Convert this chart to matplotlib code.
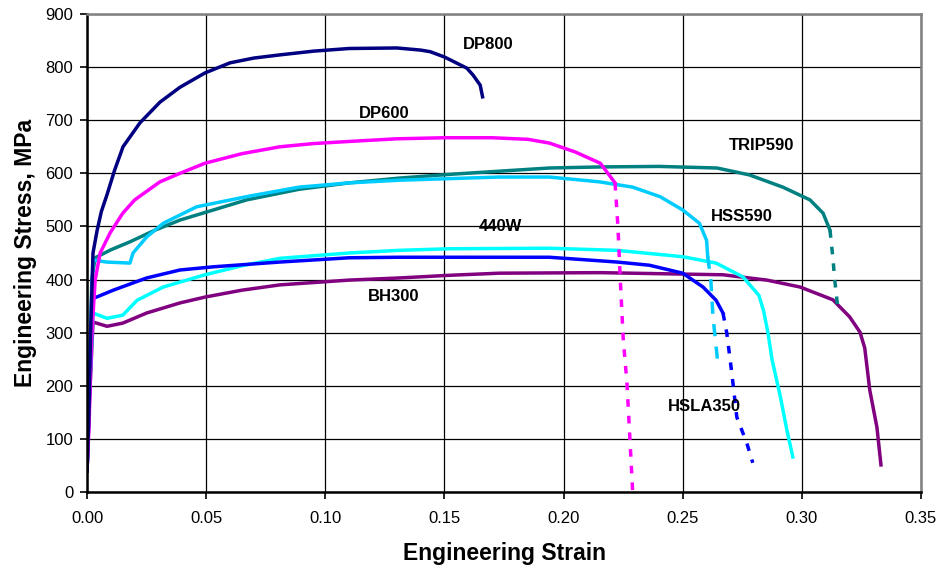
import matplotlib
matplotlib.use("Agg")
import matplotlib.pyplot as plt

plt.rcParams['font.family'] = ['Liberation Sans', 'DejaVu Sans']

# ---- data (engineering strain, engineering stress MPa) ----
dp800_strain = [0.0, 0.0008, 0.0015, 0.0025, 0.0042, 0.0060, 0.0084, 0.0115, 0.0151, 0.0222, 0.0306,
                0.039, 0.0495, 0.060, 0.070, 0.081, 0.095, 0.110, 0.130, 0.140, 0.144, 0.150, 0.1594,
                0.162, 0.165, 0.166]
dp800_stress = [40, 150, 300, 450, 492, 528, 560, 605, 650, 695, 734, 762, 789, 808, 817, 823, 830,
                835, 836, 832, 829, 819, 798, 785, 766, 744]

dp600_strain = [0.0, 0.0008, 0.0018, 0.0034, 0.0055, 0.0097, 0.015, 0.020, 0.0306, 0.039, 0.0495,
                0.065, 0.081, 0.095, 0.110, 0.130, 0.150, 0.170, 0.185, 0.194, 0.205, 0.2154, 0.2216]
dp600_stress = [40, 120, 280, 399, 450, 488, 525, 550, 584, 600, 619, 637, 650, 656, 660, 665, 667,
                667, 664, 657, 640, 619, 582]
dp600_frac_strain = [0.2216, 0.2228, 0.2238, 0.2250, 0.2266, 0.2290]
dp600_frac_stress = [582, 500, 400, 290, 205, 0]

trip590_strain = [0.0, 0.001, 0.002, 0.0034, 0.010, 0.018, 0.028, 0.039, 0.053, 0.067, 0.089, 0.110,
                  0.131, 0.152, 0.173, 0.194, 0.215, 0.240, 0.2644, 0.278, 0.292, 0.3034, 0.3089, 0.3118]
trip590_stress = [40, 200, 400, 441, 456, 471, 492, 512, 531, 550, 570, 582, 591, 598, 604, 610, 612,
                  613, 610, 597, 574, 550, 525, 493]
trip590_frac_strain = [0.3118, 0.3130, 0.3138, 0.3147, 0.3150]
trip590_frac_stress = [493, 442, 399, 362, 350]

hss590_strain = [0.0, 0.001, 0.0025, 0.008, 0.018, 0.0193, 0.025, 0.032, 0.046, 0.068, 0.089, 0.110,
                 0.131, 0.173, 0.194, 0.215, 0.229, 0.2405, 0.250, 0.257, 0.260, 0.2605]
hss590_stress = [40, 220, 437, 433, 431, 450, 480, 506, 537, 557, 574, 582, 587, 593, 593, 584, 574,
                 556, 531, 506, 474, 443]
hss590_frac_strain = [0.2605, 0.2618, 0.2627, 0.2648]
hss590_frac_stress = [443, 399, 330, 240]

w440_strain = [0.0, 0.001, 0.0025, 0.0084, 0.015, 0.021, 0.032, 0.0495, 0.065, 0.081, 0.110, 0.131,
               0.152, 0.194, 0.2224, 0.250, 0.264, 0.2753, 0.2820, 0.2840, 0.2858, 0.2875, 0.291,
               0.2937, 0.2962]
w440_stress = [40, 180, 337, 327, 333, 361, 386, 409, 426, 440, 450, 455, 458, 459, 455, 443, 431, 405,
               370, 340, 299, 249, 179, 117, 66]

hsla350_strain = [0.0, 0.001, 0.0025, 0.004, 0.011, 0.025, 0.039, 0.053, 0.081, 0.110, 0.131, 0.194,
                  0.2224, 0.236, 0.250, 0.2585, 0.264, 0.2669]
hsla350_stress = [40, 180, 365, 367, 380, 403, 418, 424, 433, 441, 442, 442, 433, 427, 412, 386, 361, 337]
hsla350_frac_strain = [0.2669, 0.2685, 0.2706, 0.2727, 0.2769, 0.2794]
hsla350_frac_stress = [337, 299, 224, 141, 92, 55]

bh300_strain = [0.0, 0.001, 0.0025, 0.0084, 0.015, 0.025, 0.039, 0.0495, 0.065, 0.081, 0.110, 0.131,
                0.152, 0.173, 0.2154, 0.2669, 0.2853, 0.2992, 0.313, 0.320, 0.3244, 0.3264, 0.3285,
                0.3315, 0.3332]
bh300_stress = [40, 170, 320, 312, 318, 337, 356, 367, 380, 390, 399, 403, 408, 412, 413, 409, 399, 386,
                362, 330, 301, 271, 192, 122, 51]

labels = ["DP800", "DP600", "TRIP590", "HSS590", "440W", "BH300", "HSLA350"]
label_x = [0.1683, 0.1246, 0.2829, 0.2747, 0.1733, 0.1288, 0.2589]
label_y = [842, 712, 653, 518, 499, 369, 161]

xticks = [0.00, 0.05, 0.10, 0.15, 0.20, 0.25, 0.30, 0.35]
yticks = [0, 100, 200, 300, 400, 500, 600, 700, 800, 900]

# ---- figure ----
fig = plt.figure(figsize=(9.42, 5.75), dpi=100)
ax = fig.add_axes([0.0924, 0.1443, 0.9777 - 0.0924, 0.9757 - 0.1443])

lw = 2.5
dash = (2.2, 2.6)

ax.plot(bh300_strain, bh300_stress, color='#800080', lw=lw)
ax.plot(w440_strain, w440_stress, color='#00FFFF', lw=lw)
ax.plot(hsla350_strain, hsla350_stress, color='#0000FF', lw=lw)
ax.plot(hsla350_frac_strain, hsla350_frac_stress, color='#0000FF', lw=lw, dashes=dash)
ax.plot(trip590_strain, trip590_stress, color='#008080', lw=lw)
ax.plot(trip590_frac_strain, trip590_frac_stress, color='#008080', lw=lw, dashes=dash)
ax.plot(hss590_strain, hss590_stress, color='#00CCFF', lw=lw)
ax.plot(hss590_frac_strain, hss590_frac_stress, color='#00CCFF', lw=lw, dashes=(3.5, 3.0))
ax.plot(dp600_strain, dp600_stress, color='#FF00FF', lw=lw)
ax.plot(dp600_frac_strain, dp600_frac_stress, color='#FF00FF', lw=lw, dashes=dash)
ax.plot(dp800_strain, dp800_stress, color='#000080', lw=lw)

for t, x, y in zip(labels, label_x, label_y):
    ax.text(x, y, t, fontsize=12, fontweight='bold', ha='center', va='center', color='black')

ax.set_xlim(0, 0.35)
ax.set_ylim(0, 900)
ax.set_xticks(xticks)
ax.set_xticklabels([f"{v:.2f}" for v in xticks])
ax.set_yticks(yticks)
ax.set_yticklabels([str(v) for v in yticks])
ax.tick_params(axis='both', direction='out', length=5, width=1.2, labelsize=12, colors='black')
ax.tick_params(axis='x', pad=9)
ax.tick_params(axis='y', pad=5)

ax.grid(True, color='black', lw=0.9)
ax.set_axisbelow(True)

for s in ['left', 'bottom']:
    ax.spines[s].set_color('black')
    ax.spines[s].set_linewidth(1.8)
for s in ['top', 'right']:
    ax.spines[s].set_color('#808080')
    ax.spines[s].set_linewidth(1.8)

ax.set_xlabel("Engineering Strain", fontsize=16.5, fontweight='bold', labelpad=11)
ax.set_ylabel("Engineering Stress, MPa", fontsize=16.5, fontweight='bold', labelpad=6)

fig.savefig("out.png", dpi=100)
